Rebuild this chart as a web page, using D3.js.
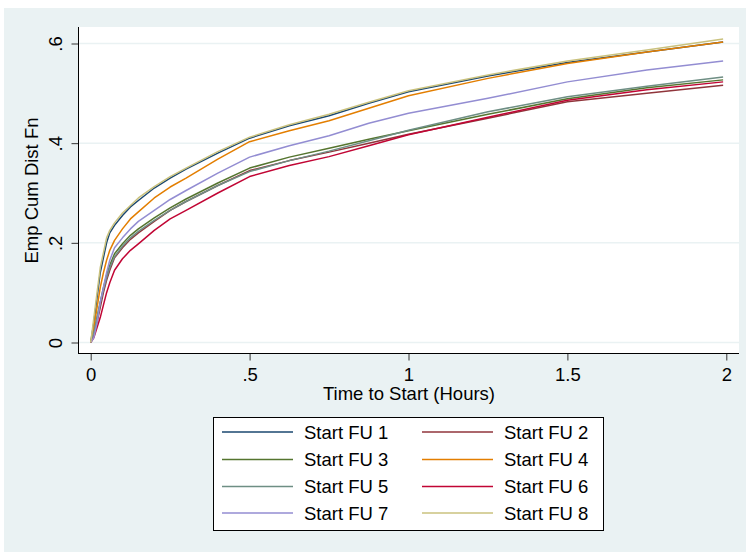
<!DOCTYPE html>
<html>
<head>
<meta charset="utf-8">
<script src="https://cdn.jsdelivr.net/npm/d3@7/dist/d3.min.js"></script>
<style>
  html, body { margin: 0; padding: 0; background: #ffffff; }
  svg { display: block; }
  text { font-family: "Liberation Sans", Arial, sans-serif; fill: #000; }
</style>
</head>
<body>
<svg id="chart" width="746" height="552"></svg>
<script>
// Time grid (hours) at which each empirical CDF is sampled
const hours = [0, 0.01, 0.02, 0.03, 0.04, 0.05, 0.06, 0.075, 0.1, 0.125, 0.15, 0.2, 0.25, 0.3, 0.4, 0.5, 0.625, 0.75, 0.875, 1.0, 1.25, 1.5, 1.75, 1.99];

// Cumulative share started, one array per follow-up wave
const fu1 = [0, 0.04, 0.09, 0.14, 0.17, 0.2, 0.22, 0.235, 0.255, 0.272, 0.285, 0.31, 0.33, 0.348, 0.38, 0.41, 0.435, 0.455, 0.48, 0.503, 0.535, 0.562, 0.583, 0.603];
const fu2 = [0, 0.015, 0.04, 0.07, 0.1, 0.125, 0.145, 0.17, 0.19, 0.207, 0.22, 0.243, 0.265, 0.283, 0.315, 0.345, 0.365, 0.382, 0.4, 0.418, 0.45, 0.483, 0.5, 0.516];
const fu3 = [0, 0.02, 0.05, 0.08, 0.11, 0.135, 0.155, 0.178, 0.198, 0.215, 0.228, 0.25, 0.27, 0.288, 0.32, 0.35, 0.372, 0.39, 0.408, 0.425, 0.458, 0.489, 0.511, 0.527];
const fu4 = [0, 0.03, 0.07, 0.11, 0.14, 0.165, 0.185, 0.205, 0.228, 0.248, 0.262, 0.29, 0.312, 0.33, 0.368, 0.403, 0.425, 0.445, 0.47, 0.495, 0.53, 0.56, 0.583, 0.603];
const fu5 = [0, 0.02, 0.05, 0.08, 0.105, 0.13, 0.15, 0.172, 0.193, 0.21, 0.223, 0.245, 0.265, 0.283, 0.315, 0.343, 0.365, 0.384, 0.405, 0.426, 0.463, 0.493, 0.514, 0.533];
const fu6 = [0, 0.01, 0.03, 0.05, 0.075, 0.1, 0.12, 0.145, 0.168, 0.185, 0.198, 0.225, 0.248, 0.265, 0.3, 0.333, 0.355, 0.373, 0.395, 0.417, 0.452, 0.486, 0.507, 0.523];
const fu7 = [0, 0.01, 0.04, 0.08, 0.11, 0.14, 0.165, 0.19, 0.21, 0.228, 0.243, 0.265, 0.287, 0.305, 0.34, 0.372, 0.395, 0.415, 0.44, 0.46, 0.49, 0.523, 0.547, 0.565];
const fu8 = [0, 0.05, 0.1, 0.15, 0.18, 0.21, 0.225, 0.24, 0.26, 0.275, 0.29, 0.313, 0.333, 0.35, 0.383, 0.412, 0.437, 0.458, 0.482, 0.505, 0.537, 0.565, 0.587, 0.609];

const seriesNames = ["Start FU 1", "Start FU 2", "Start FU 3", "Start FU 4", "Start FU 5", "Start FU 6", "Start FU 7", "Start FU 8"];
const seriesColors = ["#1a476f", "#90353b", "#55752f", "#e37e00", "#6e8e84", "#c10534", "#938dd2", "#cac27e"];

const xTicks = [0, 0.5, 1, 1.5, 2];
const xTickLabels = ["0", ".5", "1", "1.5", "2"];
const yTicks = [0, 0.2, 0.4, 0.6];
const yTickLabels = ["0", ".2", ".4", ".6"];

const xTitle = "Time to Start (Hours)";
const yTitle = "Emp Cum Dist Fn";

const series = [fu1, fu2, fu3, fu4, fu5, fu6, fu7, fu8].map((vals, i) => ({
  name: seriesNames[i],
  color: seriesColors[i],
  points: hours.map((h, j) => [h, vals[j]])
}));

const svg = d3.select("#chart");
const W = 746, H = 552;
const FONT = 18.5;

// graph region
svg.append("rect").attr("x", 4).attr("y", 8).attr("width", W - 4).attr("height", H - 8).attr("fill", "#eaf2f3");

// plot region
const plot = { left: 79, right: 739, top: 27, bottom: 354 };
svg.append("rect")
  .attr("x", plot.left).attr("y", plot.top)
  .attr("width", plot.right - plot.left).attr("height", plot.bottom - plot.top)
  .attr("fill", "#ffffff");

const x = d3.scaleLinear().domain([0, 2]).range([90.7, 726.3]);
const y = d3.scaleLinear().domain([0, 0.6]).range([342.5, 43.5]);

// horizontal grid
svg.append("g").selectAll("line").data(yTicks).join("line")
  .attr("x1", plot.left).attr("x2", plot.right)
  .attr("y1", d => y(d)).attr("y2", d => y(d))
  .attr("stroke", "#eaf2f3").attr("stroke-width", 1.5);

// curves
const line = d3.line().x(d => x(d[0])).y(d => y(d[1])).curve(d3.curveLinear);
svg.append("g").selectAll("path").data(series).join("path")
  .attr("d", d => line(d.points))
  .attr("fill", "none")
  .attr("stroke", d => d.color)
  .attr("stroke-width", 1.5)
  .attr("stroke-linejoin", "round");

// y axis
const yAxis = d3.axisLeft(y).tickValues(yTicks).tickFormat((d, i) => yTickLabels[i]).tickSize(7).tickPadding(0);
const gy = svg.append("g").attr("transform", `translate(${plot.left - 0.5},0)`).call(yAxis);
gy.select(".domain").remove();
gy.append("line").attr("x1", 0).attr("x2", 0).attr("y1", plot.top).attr("y2", plot.bottom).attr("stroke", "#000").attr("stroke-width", 1);
gy.selectAll(".tick line").attr("stroke", "#333").attr("stroke-width", 1);
gy.selectAll(".tick text")
  .attr("x", null).attr("dy", null)
  .attr("transform", "translate(-17,0) rotate(-90)")
  .attr("text-anchor", "middle")
  .style("font-size", FONT + "px")
  .style("font-family", "'Liberation Sans', Arial, sans-serif")
  .attr("fill", "#000");

// x axis
const xAxis = d3.axisBottom(x).tickValues(xTicks).tickFormat((d, i) => xTickLabels[i]).tickSize(7).tickPadding(0);
const gx = svg.append("g").attr("transform", `translate(0,${plot.bottom - 0.5})`).call(xAxis);
gx.select(".domain").remove();
gx.append("line").attr("x1", plot.left - 1).attr("x2", plot.right).attr("y1", 0).attr("y2", 0).attr("stroke", "#000").attr("stroke-width", 1);
gx.selectAll(".tick line").attr("stroke", "#333").attr("stroke-width", 1);
gx.selectAll(".tick text")
  .attr("y", 27).attr("dy", null)
  .style("font-size", FONT + "px")
  .style("font-family", "'Liberation Sans', Arial, sans-serif")
  .attr("fill", "#000");

// axis titles
svg.append("text")
  .attr("x", (plot.left + plot.right) / 2).attr("y", 400)
  .attr("text-anchor", "middle").style("font-size", FONT + "px")
  .text(xTitle);
svg.append("text")
  .attr("transform", `translate(38,${(plot.top + plot.bottom) / 2}) rotate(-90)`)
  .attr("text-anchor", "middle").style("font-size", FONT + "px")
  .text(yTitle);

// legend
const legend = svg.append("g");
legend.append("rect").attr("x", 213.5).attr("y", 417.5).attr("width", 390).attr("height", 113)
  .attr("fill", "#ffffff").attr("stroke", "#000").attr("stroke-width", 1);
const rowY = [432, 459.5, 486.5, 513];
const colX = [222, 422];
series.forEach((s, i) => {
  const cx = colX[i % 2], cy = rowY[Math.floor(i / 2)];
  legend.append("line").attr("x1", cx).attr("x2", cx + 71).attr("y1", cy).attr("y2", cy)
    .attr("stroke", s.color).attr("stroke-width", 1.5);
  legend.append("text").attr("x", cx + 82).attr("y", cy + 6.5)
    .style("font-size", FONT + "px").text(s.name);
});
</script>
</body>
</html>
